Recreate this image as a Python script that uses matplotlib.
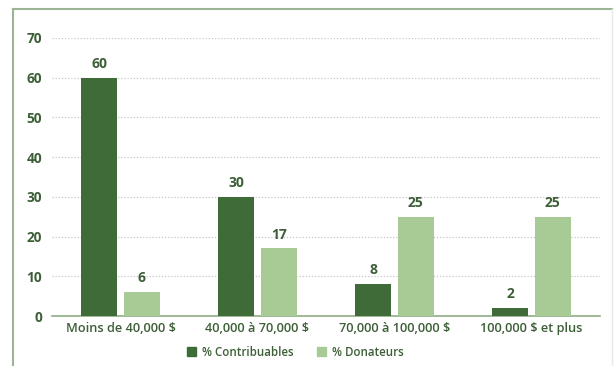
import numpy as np
import matplotlib
matplotlib.use("Agg")
import matplotlib.pyplot as plt
from matplotlib.lines import Line2D
from matplotlib.patches import Patch

# ---------------------------------------------------------------
# DATA
# ---------------------------------------------------------------
categories = ['Moins de 40,000 $', '40,000 à 70,000 $', '70,000 à 100,000 $', '100,000 $ et plus']
contribuables = [60, 30, 8, 2]
donateurs = [6, 17, 25, 25]
yticks = [0, 10, 20, 30, 40, 50, 60, 70]

DARK = '#3f6b38'
LIGHT = '#a8cb95'
TEXT = '#3d5f37'

plt.rcParams['font.family'] = ['Open Sans', 'DejaVu Sans']

fig = plt.figure(figsize=(6.16, 3.66), dpi=100)
ax = fig.add_axes([0.0844, 0.1366, 0.8896, 0.7596])

x = np.arange(len(categories))
w = 0.26
off = 0.155
b1 = ax.bar(x - off, contribuables, w, color=DARK, label='% Contribuables', zorder=3)
b2 = ax.bar(x + off, donateurs, w, color=LIGHT, label='% Donateurs', zorder=3)

for bars in (b1, b2):
    for rect in bars:
        h = rect.get_height()
        ax.annotate(f'{h:g}', xy=(rect.get_x() + rect.get_width() / 2, h),
                    xytext=(0, 5), textcoords='offset points',
                    ha='center', va='bottom', fontsize=10, fontweight='bold', color=TEXT)

ax.set_xlim(-0.5, len(categories) - 0.5)
ax.set_ylim(0, 70)
ax.set_yticks(yticks)
ax.set_xticks(x)
ax.set_xticklabels(categories, fontsize=9.2, fontweight='semibold', color=TEXT)
ax.tick_params(axis='y', length=0, pad=7, labelsize=9.8, labelcolor=TEXT)
ax.tick_params(axis='x', length=0, pad=4)
for lab in ax.get_yticklabels():
    lab.set_fontweight('bold')

ax.grid(axis='y', color='#c6c6c6', linestyle=(0, (1, 1.5)), linewidth=0.9, zorder=0)
for s in ('top', 'right', 'left'):
    ax.spines[s].set_visible(False)
ax.spines['bottom'].set_color('#8fae86')
ax.spines['bottom'].set_linewidth(1.2)

handles = [Patch(color=DARK, label='% Contribuables'), Patch(color=LIGHT, label='% Donateurs')]
leg = fig.legend(handles=handles, loc='center', bbox_to_anchor=(0.479, 0.038), ncol=2,
                 frameon=False, fontsize=8.3, handlelength=0.8, handleheight=0.8,
                 columnspacing=2.0, handletextpad=0.5)
for t in leg.get_texts():
    t.set_color(TEXT)
    t.set_fontweight('semibold')

# outer frame (left and top edges visible)
fig.add_artist(Line2D([0.021, 0.021], [0.0, 0.975], color='#9bb494', linewidth=1.5, transform=fig.transFigure))
fig.add_artist(Line2D([0.021, 0.993], [0.975, 0.975], color='#9bb494', linewidth=1.5, transform=fig.transFigure))
fig.add_artist(Line2D([0.993, 0.993], [0.0, 0.975], color='#e6ece4', linewidth=1.0, transform=fig.transFigure))

fig.savefig('out.png', dpi=100)
plt.close(fig)
